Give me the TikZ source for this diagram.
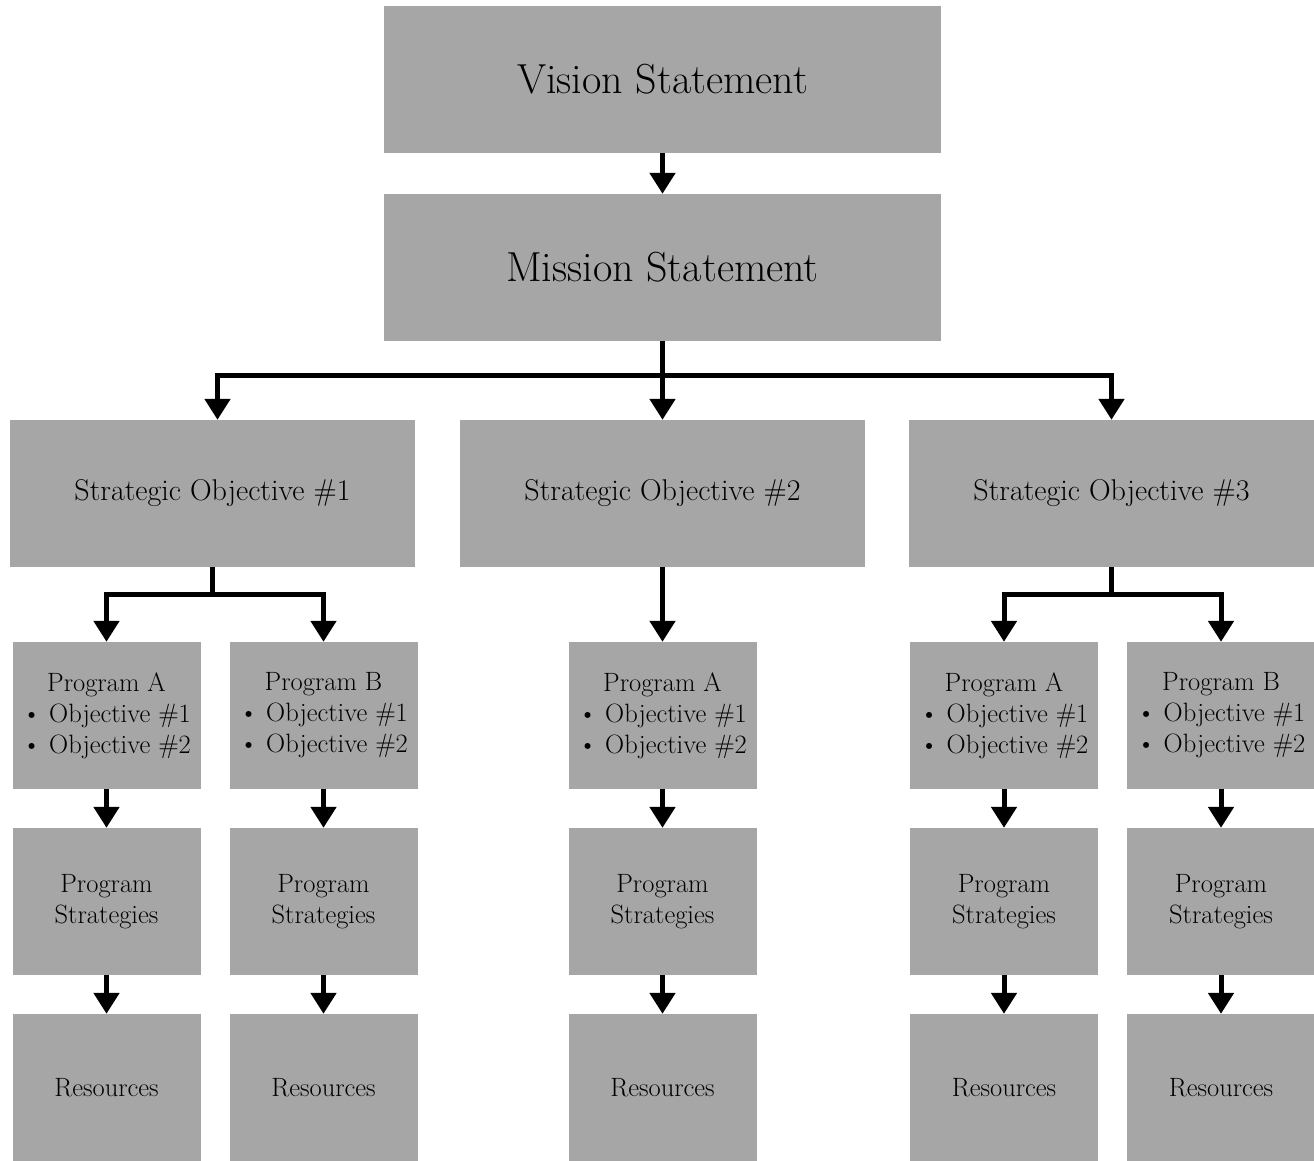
\documentclass[tikz,border=0pt]{standalone}
\usetikzlibrary{arrows.meta}
\definecolor{boxgray}{HTML}{A6A6A6}
\tikzset{
  box/.style={fill=boxgray,inner sep=0pt,align=center},
  bigbox/.style={box,minimum width=557pt,minimum height=147pt,font=\fontsize{42}{48}\selectfont},
  sobox/.style={box,minimum width=405pt,minimum height=147pt,font=\fontsize{30}{34}\selectfont},
  smallbox/.style={box,minimum width=188pt,minimum height=147pt,font=\fontsize{26.5}{31}\selectfont},
  bus/.style={line width=5pt},
  conn/.style={bus,-{Triangle[width=25pt,length=21pt]}},
}
\begin{document}
\begin{tikzpicture}[x=1pt,y=-1pt]
  \useasboundingbox (0,0) rectangle (1314,1160);
  % top of the plan
  \node[bigbox] (vis) at (662.5,79.5) {Vision Statement};
  \node[bigbox] (mis) at (662.5,267.5) {Mission Statement};
  \draw[conn] (vis) -- (mis);
  \node[sobox] (so1) at (212.5,493.5) {Strategic Objective \#1};
  \node[sobox] (so2) at (662.5,493.5) {Strategic Objective \#2};
  \node[sobox] (so3) at (1111.5,493.5) {Strategic Objective \#3};
  \coordinate (hub) at ([yshift=-34pt]mis.south);
  \draw[bus] (mis) -- (hub);
  \draw[conn] (hub) -- (so2);
  \draw[conn] (hub) -| ([xshift=5pt]so1.north);
  \draw[conn] (hub) -| (so3);
  % programs, strategies, resources
  \foreach \n/\x/\p in {1/106.5/A,2/323.5/B,3/662.5/A,4/1004/A,5/1221/B} {
    \node[smallbox] (prog\n) at (\x,715.5) {Program \p\\\textbullet\ Objective \#1\\\textbullet\ Objective \#2};
    \node[smallbox] (strat\n) at (\x,901.5) {Program\\Strategies};
    \node[smallbox] (res\n) at (\x,1087.5) {Resources};
    \draw[conn] (prog\n) -- (strat\n);
    \draw[conn] (strat\n) -- (res\n);
  }
  \coordinate (h1) at ([yshift=-27pt]so1.south);
  \coordinate (h3) at ([yshift=-27pt]so3.south);
  \draw[bus] (so1) -- (h1);
  \draw[conn] (h1) -| (prog1);
  \draw[conn] (h1) -| (prog2);
  \draw[conn] (so2) -- (prog3);
  \draw[bus] (so3) -- (h3);
  \draw[conn] (h3) -| (prog4);
  \draw[conn] (h3) -| (prog5);
\end{tikzpicture}
\end{document}
